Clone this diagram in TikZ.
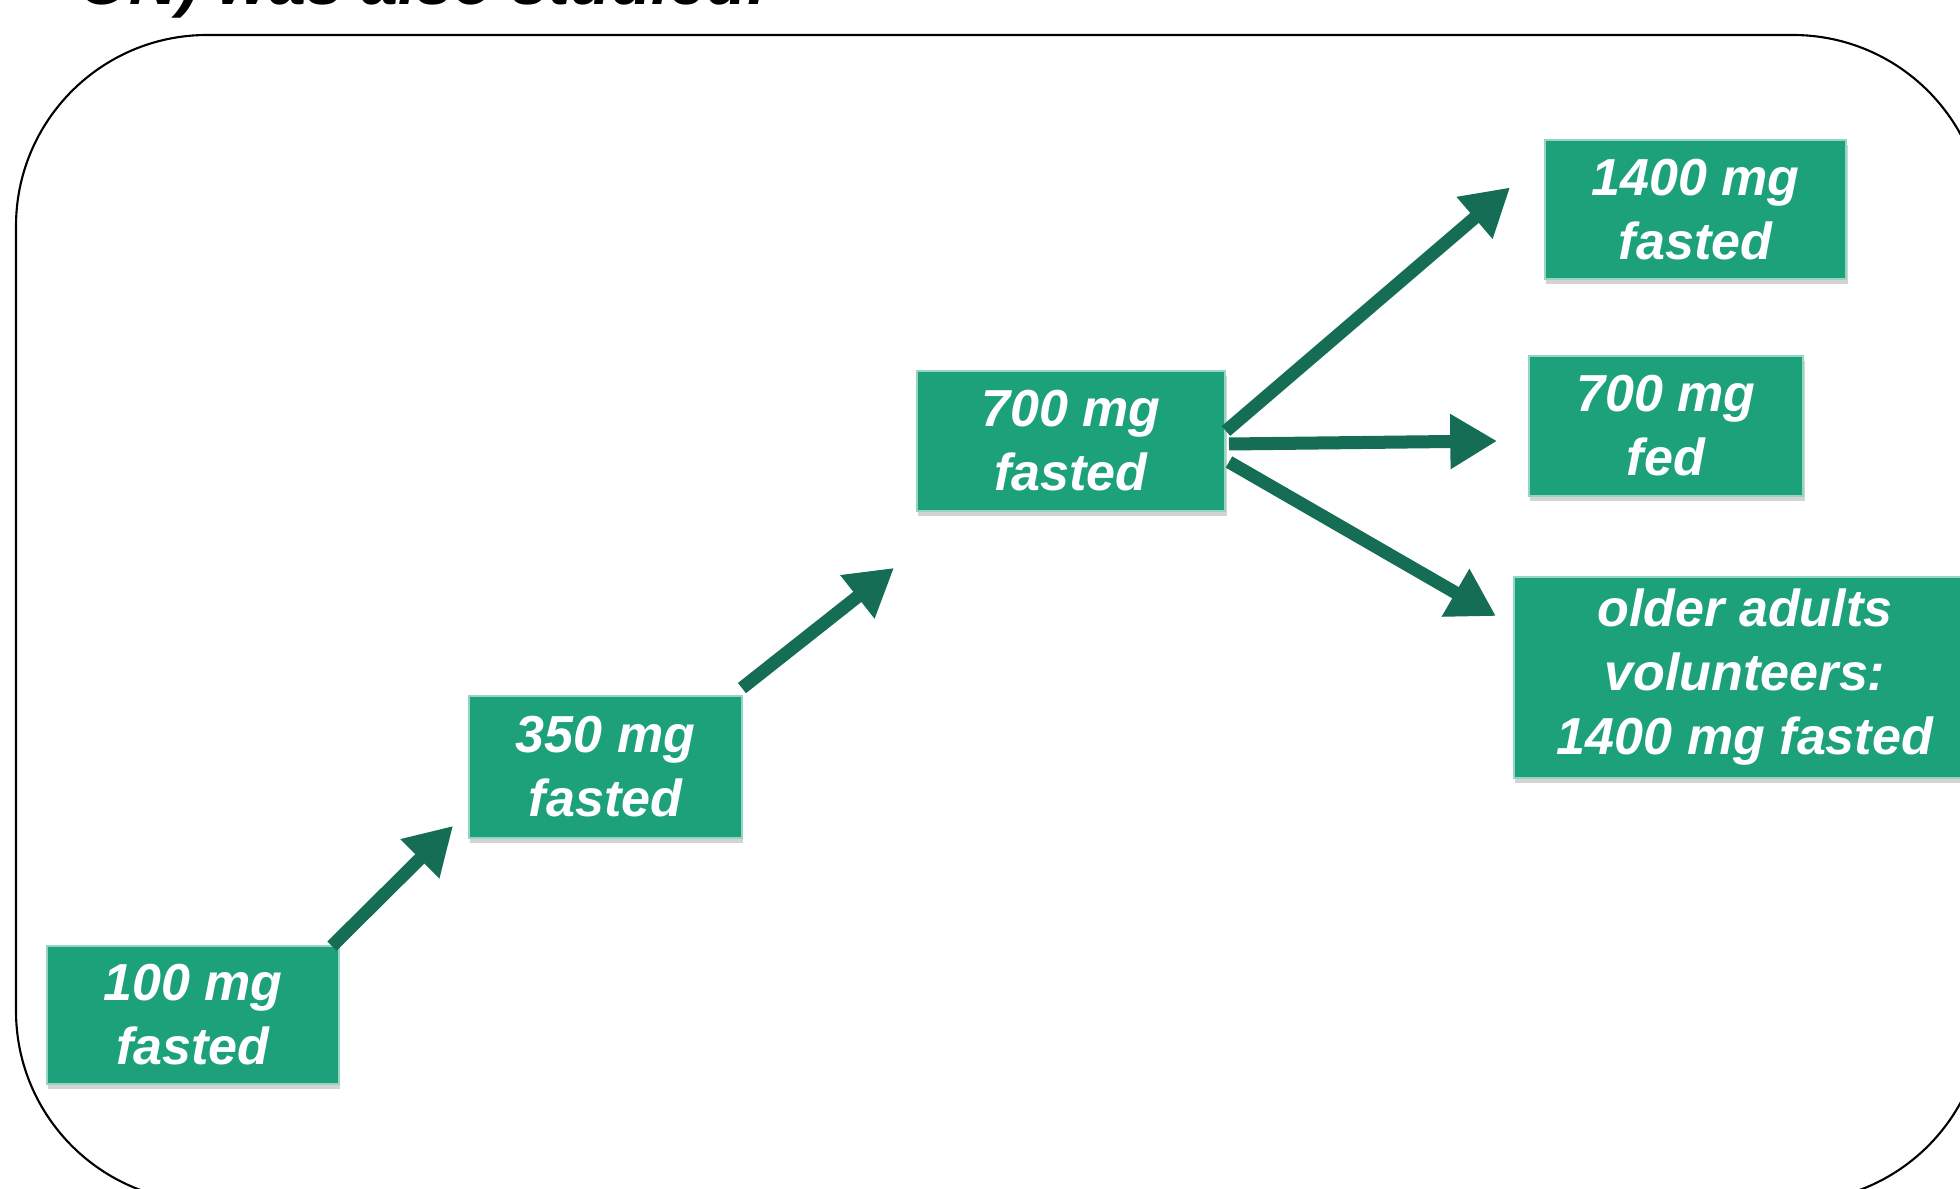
\documentclass[tikz,border=0pt]{standalone}
\usepackage{fontspec}
\setmainfont{Liberation Sans}
\usetikzlibrary{arrows.meta,shadows}
\definecolor{boxgreen}{RGB}{28,161,123}
\definecolor{arrowgreen}{RGB}{20,109,84}
\definecolor{boxedge}{RGB}{150,212,196}

\begin{document}
\begin{tikzpicture}[x=0.01cm,y=-0.01cm,
  dosebox/.style={draw=boxedge,line width=0.5pt,fill=boxgreen,text=white,align=center,inner sep=0pt,
    font=\bfseries\itshape\fontsize{14.8}{18.2}\selectfont,
    drop shadow={shadow xshift=0.4pt,shadow yshift=-1.3pt,opacity=0.35}},
  dosearrow/.style={arrowgreen,line width=3.7pt,-{Triangle[length=13.3pt,width=14.8pt]}}]
\useasboundingbox (0,0) rectangle (1960,1189);
\clip (0,0) rectangle (1960,1189);
\node[anchor=base west,font=\bfseries\itshape\fontsize{18.8}{22}\selectfont] (title) at (66,5) {ON) was also studied.};
\draw[line width=0.6pt,rounded corners=1.91cm] (16,35) rectangle (1984,1202);
\node[dosebox,minimum width=2.92cm,minimum height=1.38cm] (n100) at (193,1015) {100 mg\\fasted};
\node[dosebox,minimum width=2.73cm,minimum height=1.42cm] (n350) at (605.5,767) {350 mg\\fasted};
\node[dosebox,minimum width=3.08cm,minimum height=1.40cm] (n700) at (1071,441) {700 mg\\fasted};
\node[dosebox,minimum width=3.01cm,minimum height=1.39cm] (n1400) at (1695.5,209.5) {1400 mg\\fasted};
\node[dosebox,minimum width=2.74cm,minimum height=1.40cm] (nfed) at (1666,426) {700 mg\\fed};
\node[dosebox,minimum width=4.62cm,minimum height=2.01cm] (nold) at (1745,677.5) {older adults\\volunteers:\\1400 mg fasted};
\draw[dosearrow] ([shift={(-8,1)}]n100.north east) -- ([shift={(-15,-13)}]n350.south west);
\draw[dosearrow] ([shift={(-1,-7)}]n350.north east) -- ([shift={(-22,56)}]n700.south west);
\draw[dosearrow] ([shift={(0,-10)}]n700.east) -- ([shift={(-34,-22)}]n1400.west);
\draw[dosearrow] ([shift={(3,3)}]n700.east) -- ([shift={(-31,15)}]nfed.west);
\draw[dosearrow] ([shift={(3,21)}]n700.east) -- ([shift={(-17,40)}]nold.north west);
\end{tikzpicture}
\end{document}
